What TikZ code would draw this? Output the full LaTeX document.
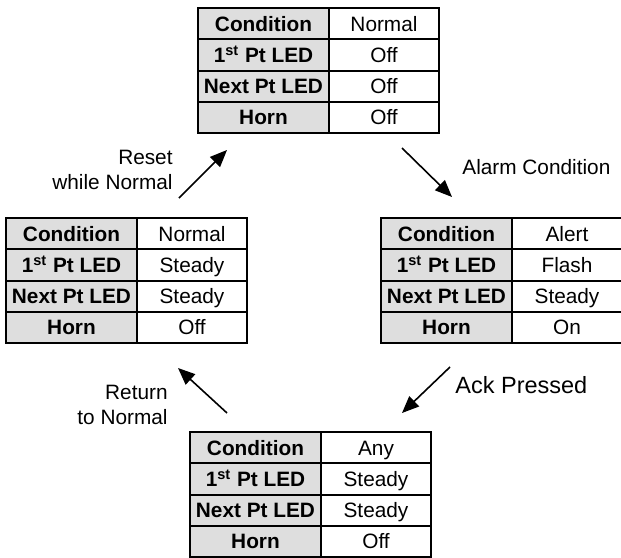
\documentclass[tikz,border=0pt]{standalone}
\usepackage{fontspec}
\setmainfont{Liberation Sans}
\usetikzlibrary{arrows.meta}

% one state table: name, top left corner, condition, 1st pt, next pt, horn
\newcommand{\statetab}[6]{%
  \node[key] (#1-k1) at (#2) {Condition};
  \node[val] (#1-v1) at (#1-k1.north east) {#3};
  \node[key] (#1-k2) at (#1-k1.south west) {1\textsuperscript{st} Pt LED};
  \node[val] (#1-v2) at (#1-k2.north east) {#4};
  \node[key] (#1-k3) at (#1-k2.south west) {Next Pt LED};
  \node[val] (#1-v3) at (#1-k3.north east) {#5};
  \node[key] (#1-k4) at (#1-k3.south west) {Horn};
  \node[val] (#1-v4) at (#1-k4.north east) {#6};
}

\begin{document}
\begin{tikzpicture}[
    x=0.5pt, y=-0.5pt,
    cell/.style={draw, line width=1pt, rectangle, inner sep=0pt, outer sep=0pt,
      anchor=north west, minimum height=15.625pt, text height=9pt, text depth=1.6pt},
    key/.style={cell, fill=black!13, minimum width=65.5pt,
      font=\fontsize{10.4}{12}\selectfont\bfseries},
    val/.style={cell, minimum width=55pt, font=\fontsize{10.4}{12}\selectfont},
    arrow/.style={-{Triangle[length=8.5pt, width=7pt]}, line width=0.8pt},
    lbl/.style={inner sep=0pt, font=\fontsize{10.4}{12.5}\selectfont},
  ]
  \useasboundingbox (0,0) rectangle (621,557);

  \statetab{normal}{198,8}{Normal}{Off}{Off}{Off}
  \statetab{alert}{381,218}{Alert}{Flash}{Steady}{On}
  \statetab{ack}{190,432}{Any}{Steady}{Steady}{Off}
  \statetab{back}{6,218}{Normal}{Steady}{Steady}{Off}

  % arrow ends
  \coordinate (alarm-s) at (402,148);
  \coordinate (alarm-e) at (452,197);
  \coordinate (ackp-s) at (450,367);
  \coordinate (ackp-e) at (402,413);
  \coordinate (ret-s) at (227,413);
  \coordinate (ret-e) at (178,368);
  \coordinate (reset-s) at (179,198);
  \coordinate (reset-e) at (227,150);

  \draw[arrow] (alarm-s) -- (alarm-e);
  \draw[arrow] (ackp-s) -- (ackp-e);
  \draw[arrow] (ret-s) -- (ret-e);
  \draw[arrow] (reset-s) -- (reset-e);

  \node[lbl, anchor=west] (alarm-l) at (462,167) {Alarm Condition};
  \node[lbl, anchor=west, font=\fontsize{11.75}{14}\selectfont] (ackp-l) at (455,385) {Ack Pressed};
  \node[lbl, anchor=east, align=right] (ret-l) at (168,405) {Return\\to Normal};
  \node[lbl, anchor=east, align=right] (reset-l) at (173,170) {Reset\\while Normal};
\end{tikzpicture}
\end{document}
